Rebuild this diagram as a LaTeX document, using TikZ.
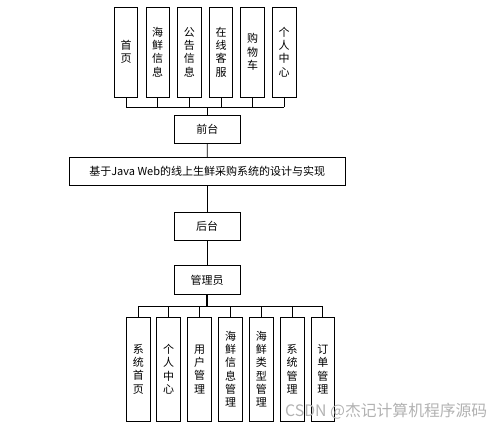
\documentclass[tikz,border=0pt]{standalone}
\usepackage{fontspec}
\setmainfont{Noto Sans CJK SC}
\newfontfamily\cjkfont{Noto Sans CJK SC}
\begin{document}
\begin{tikzpicture}[x=1pt,y=-1pt,
  box/.style={draw=black,line width=0.9pt,inner sep=0pt,align=center,
    font=\fontsize{11}{13.3}\selectfont},
  vbox/.style={box,minimum width=23.5pt},
  topbox/.style={vbox,minimum height=90pt},
  botbox/.style={vbox,minimum height=103.7pt},
  hbox/.style={box,minimum width=66.5pt,minimum height=28.5pt},
  conn/.style={line width=0.9pt}]
\useasboundingbox (0,0) rectangle (499,426);
% top row
\node[topbox] (t1) at (126,52) {首\\页};
\node[topbox] (t2) at (157.7,52) {海\\鲜\\信\\息};
\node[topbox] (t3) at (189.3,52) {公\\告\\信\\息};
\node[topbox] (t4) at (221,52) {在\\线\\客\\服};
\node[topbox] (t5) at (252.5,52) {购\\物\\车};
\node[topbox] (t6) at (284.2,52) {个\\人\\中\\心};
\node[hbox] (qt) at (207.3,129.2) {前台};
\node[box,minimum width=275.7pt,minimum height=28.4pt] (main) at (207.2,171.5) {基于Java Web的线上生鲜采购系统的设计与实现};
\node[hbox] (ht) at (207.2,226.2) {后台};
\node[hbox] (gly) at (207.2,280) {管理员};
% bottom row
\node[botbox] (b1) at (138.3,369.2) {系\\统\\首\\页};
\node[botbox] (b2) at (168.5,369.2) {个\\人\\中\\心};
\node[botbox] (b3) at (199.5,369.2) {用\\户\\管\\理};
\node[botbox] (b4) at (230.5,369.2) {海\\鲜\\信\\息\\管\\理};
\node[botbox] (b5) at (261.3,369.2) {海\\鲜\\类\\型\\管\\理};
\node[botbox] (b6) at (292.2,369.2) {系\\统\\管\\理};
\node[botbox] (b7) at (322.8,369.2) {订\\单\\管\\理};
% buses
\coordinate (busT) at (0,107.3);
\coordinate (busB) at (0,306);
\foreach \n in {t1,t2,t3,t4,t5,t6}{
  \draw[conn] (\n.south) -- (\n.south |- busT);
}
\draw[conn] (t1.south |- busT) -- (t6.south |- busT);
\draw[conn] (qt.north) -- (qt.north |- busT);
\draw[conn] (qt) -- (main);
\draw[conn] (main) -- (ht);
\draw[conn] (ht) -- (gly);
\draw[line width=1.8pt] (gly.south) -- (gly.south |- busB);
\foreach \n in {b1,b2,b3,b4,b5,b6,b7}{
  \draw[conn] (\n.north) -- (\n.north |- busB);
}
\draw[conn] (b1.north |- busB) -- (b7.north |- busB);
% watermark
\node[anchor=base west,inner sep=0pt,text=black!30,font=\fontsize{15.8}{17}\selectfont] (wm) at (285,416) {CSDN @杰记计算机程序源码};
\end{tikzpicture}
\end{document}
